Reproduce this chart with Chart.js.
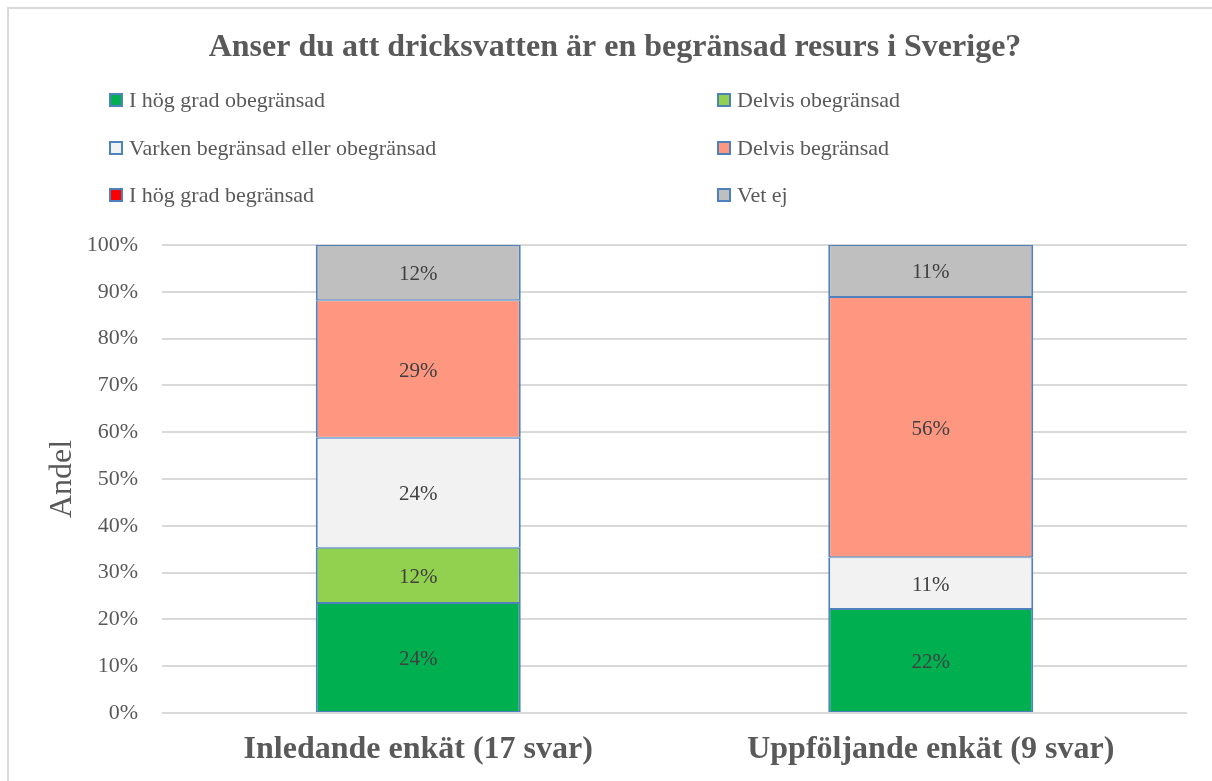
<!DOCTYPE html>
<html>
<head>
<meta charset="utf-8">
<script src="https://cdn.jsdelivr.net/npm/chart.js@4"></script>
<style>
    body { margin: 0; background: #fff; overflow: hidden; }
    #frame {
        position: absolute; left: 7px; top: 7px;
        width: 1240px; height: 800px;
        border: 2px solid #d9d9d9;
    }
    #wrap { position: absolute; left: 0; top: 0; width: 1212px; height: 781px; }
</style>
</head>
<body>
<div id="frame"></div>
<div id="wrap"><canvas id="chart"></canvas></div>
<script>
// Data (share of answers, %)
const categories = ['Inledande enkät (17 svar)', 'Uppföljande enkät (9 svar)'];
const seriesNames = ['I hög grad obegränsad', 'Delvis obegränsad', 'Varken begränsad eller obegränsad',
                     'Delvis begränsad', 'I hög grad begränsad', 'Vet ej'];
const hogGradObegransad = [23.5, 22.2];
const delvisObegransad  = [11.8, 0];
const varken            = [23.5, 11.1];
const delvisBegransad   = [29.4, 55.6];
const hogGradBegransad  = [0, 0];
const vetEj             = [11.8, 11.1];
const yTicks = [0, 10, 20, 30, 40, 50, 60, 70, 80, 90, 100];

const seriesValues = [hogGradObegransad, delvisObegransad, varken, delvisBegransad, hogGradBegransad, vetEj];
const seriesColors = ['#00b050', '#92d050', '#f2f2f2', '#ff9680', '#ff0000', '#bfbfbf'];

const FONT = "'Liberation Serif', 'Times New Roman', serif";
const GREY = '#595959';

// labels in the middle of each segment
const segmentLabels = {
    id: 'segmentLabels',
    afterDatasetsDraw(chart) {
        const ctx = chart.ctx;
        ctx.save();
        ctx.font = '21px ' + FONT;
        ctx.fillStyle = '#404040';
        ctx.textAlign = 'center';
        ctx.textBaseline = 'middle';
        chart.data.datasets.forEach((ds, i) => {
            chart.getDatasetMeta(i).data.forEach((bar, j) => {
                const v = ds.data[j];
                if (!v) return;
                ctx.fillText(Math.round(v) + '%', bar.x, (bar.y + bar.base) / 2 + 2);
            });
        });
        ctx.restore();
    }
};

// two-column legend like the original
const gridLegend = {
    id: 'gridLegend',
    afterDraw(chart) {
        const ctx = chart.ctx;
        const colX = [110, 718];
        const rowY = [100, 148, 195];
        ctx.save();
        ctx.font = '22px ' + FONT;
        ctx.textBaseline = 'middle';
        chart.data.datasets.forEach((ds, i) => {
            const x = colX[i % 2];
            const y = rowY[Math.floor(i / 2)];
            ctx.fillStyle = ds.backgroundColor;
            ctx.fillRect(x, y - 6, 12, 12);
            ctx.strokeStyle = '#4f81bd';
            ctx.lineWidth = 2;
            ctx.strokeRect(x, y - 6, 12, 12);
            ctx.fillStyle = GREY;
            ctx.fillText(ds.label, x + 19, y + 1);
        });
        ctx.restore();
    }
};

new Chart(document.getElementById('chart'), {
    type: 'bar',
    data: {
        labels: categories,
        datasets: seriesNames.map((name, i) => ({
            label: name,
            data: seriesValues[i],
            backgroundColor: seriesColors[i],
            borderColor: '#4f81bd',
            borderWidth: { left: 2, right: 2, top: 1, bottom: 1 },
            borderSkipped: false,
            barPercentage: 0.4,
            categoryPercentage: 1
        }))
    },
    options: {
        responsive: true,
        maintainAspectRatio: false,
        animation: false,
        layout: { padding: { top: 0, right: 25, bottom: 0, left: 43 } },
        plugins: {
            legend: { display: false },
            tooltip: { enabled: false },
            title: {
                display: true,
                text: 'Anser du att dricksvatten är en begränsad resurs i Sverige?',
                color: GREY,
                font: { family: FONT, size: 32, weight: 'bold' },
                padding: { top: 29, bottom: 177.6 }
            }
        },
        scales: {
            x: {
                stacked: true,
                grid: { display: false, drawTicks: false },
                border: { display: false },
                ticks: { color: GREY, font: { family: FONT, size: 32, weight: 'bold' }, padding: 18 },
                afterFit: s => { s.height = 68; }
            },
            y: {
                stacked: true,
                min: 0,
                max: 100,
                afterBuildTicks: axis => { axis.ticks = yTicks.map(v => ({ value: v })); },
                grid: { color: '#d9d9d9', lineWidth: 2, drawTicks: false },
                border: { display: false },
                ticks: { color: GREY, font: { family: FONT, size: 22 }, padding: 24, callback: v => v + '%' },
                title: { display: true, text: 'Andel', color: GREY, font: { family: FONT, size: 32 }, padding: 0 },
                afterFit: s => { s.width = 119; }
            }
        }
    },
    plugins: [segmentLabels, gridLegend]
});
</script>
</body>
</html>
